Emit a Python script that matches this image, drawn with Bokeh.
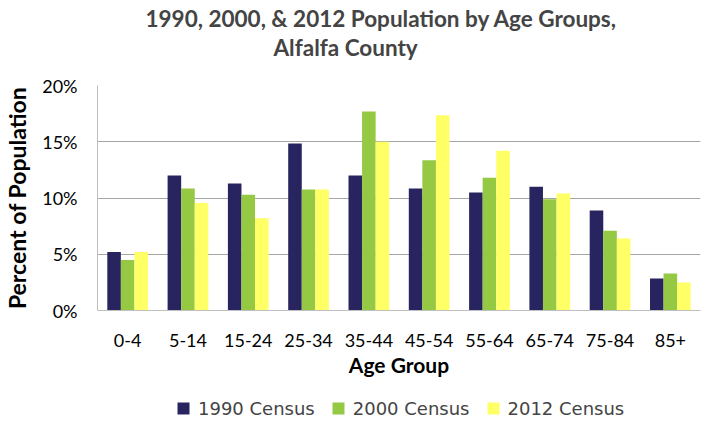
from bokeh.plotting import figure
from bokeh.layouts import column
from bokeh.models import Legend, LegendItem, Title, NumeralTickFormatter, FixedTicker
from bokeh.transform import dodge
from bokeh.embed import file_html
from bokeh.resources import INLINE
from bokeh.models import ColumnDataSource

ages = ["0-4", "5-14", "15-24", "25-34", "35-44", "45-54", "55-64", "65-74", "75-84", "85+"]
census_1990 = [5.2, 12.0, 11.3, 14.85, 12.0, 10.85, 10.5, 11.0, 8.9, 2.85]
census_2000 = [4.5, 10.85, 10.3, 10.75, 17.7, 13.35, 11.8, 9.9, 7.1, 3.3]
census_2012 = [5.2, 9.55, 8.2, 10.75, 15.0, 17.35, 14.2, 10.4, 6.4, 2.5]
series_names = ["1990 Census", "2000 Census", "2012 Census"]
y_ticks = [0, 5, 10, 15, 20]

colors = ["#28245f", "#95c843", "#ffff66"]

src = ColumnDataSource(dict(age=ages,
                            c1990=[v / 100 for v in census_1990],
                            c2000=[v / 100 for v in census_2000],
                            c2012=[v / 100 for v in census_2012]))

p = figure(x_range=ages, y_range=(0, 0.20), width=702, height=384,
           output_backend="svg", toolbar_location=None,
           min_border_left=92, min_border_right=2, min_border_top=85, min_border_bottom=74)

bw = 0.225
r1 = p.vbar(x=dodge("age", -bw, range=p.x_range), top="c1990", width=bw, source=src,
            fill_color=colors[0], line_color=None)
r2 = p.vbar(x=dodge("age", 0, range=p.x_range), top="c2000", width=bw, source=src,
            fill_color=colors[1], line_color=None)
r3 = p.vbar(x=dodge("age", bw, range=p.x_range), top="c2012", width=bw, source=src,
            fill_color=colors[2], line_color=None)

p.outline_line_color = None
p.xgrid.grid_line_color = None
p.ygrid.grid_line_color = "#a6a6a6"
p.ygrid.grid_line_width = 1
p.x_range.range_padding = 0

p.yaxis.ticker = FixedTicker(ticks=[t / 100 for t in y_ticks])
p.yaxis.formatter = NumeralTickFormatter(format="0%")
for ax in (p.xaxis, p.yaxis):
    ax.axis_line_color = "#bfbfbf"
    ax.major_tick_line_color = None
    ax.minor_tick_line_color = None
    ax.major_label_text_font = "Lato"
    ax.major_label_text_font_size = "18px"
    ax.major_label_text_color = "#000000"
    ax.axis_label_text_font = "Lato"
    ax.axis_label_text_font_style = "bold"
    ax.axis_label_text_font_size = "21px"
    ax.axis_label_text_color = "#000000"

p.yaxis.axis_label_text_font_size = "23px"
p.xaxis.axis_label = "Age Group"
p.yaxis.axis_label = "Percent of Population"
p.xaxis.major_label_standoff = 17
p.xaxis.axis_label_standoff = 2
p.yaxis.major_label_standoff = 14
p.yaxis.axis_label_standoff = 8

spacer = Title(text=" ", text_font="Lato", text_font_size="19px", standoff=0)
t2 = Title(text="Alfalfa County", text_font="Lato", text_font_size="22.5px",
           text_font_style="bold", align="left", offset=176, standoff=0)
t1 = Title(text="1990, 2000, & 2012 Population  by Age Groups,", text_font="Lato",
           text_font_size="22.5px", text_font_style="bold", align="left", offset=48, standoff=0)
p.add_layout(spacer, "above")
p.add_layout(t2, "above")
p.add_layout(t1, "above")

# legend strip below the chart
lg = figure(x_range=(0, 1), y_range=(0, 1), width=702, height=39,
            x_axis_type=None, y_axis_type=None,
            output_backend="svg", toolbar_location=None,
            min_border_left=0, min_border_right=0, min_border_top=0, min_border_bottom=0)
lg.grid.visible = False
lg.outline_line_color = None
swatch = ColumnDataSource(dict(x=[float("nan")], y=[float("nan")]))
g1 = lg.scatter(x="x", y="y", marker="square", size=12, source=swatch,
                fill_color=colors[0], line_color=None)
g2 = lg.scatter(x="x", y="y", marker="square", size=12, source=swatch,
                fill_color=colors[1], line_color=None)
g3 = lg.scatter(x="x", y="y", marker="square", size=12, source=swatch,
                fill_color=colors[2], line_color=None)
legend = Legend(items=[LegendItem(label=series_names[0], renderers=[g1]),
                       LegendItem(label=series_names[1], renderers=[g2]),
                       LegendItem(label=series_names[2], renderers=[g3])],
                orientation="horizontal", location=(71, 0),
                label_text_font="DejaVu Sans", label_text_font_size="18px",
                glyph_width=30, glyph_height=30, label_standoff=0, spacing=8,
                border_line_color=None, background_fill_alpha=0,
                padding=0, margin=0)
lg.add_layout(legend, "center")

layout = column(p, lg, spacing=0)
open("out.html", "w").write(file_html(layout, INLINE))
